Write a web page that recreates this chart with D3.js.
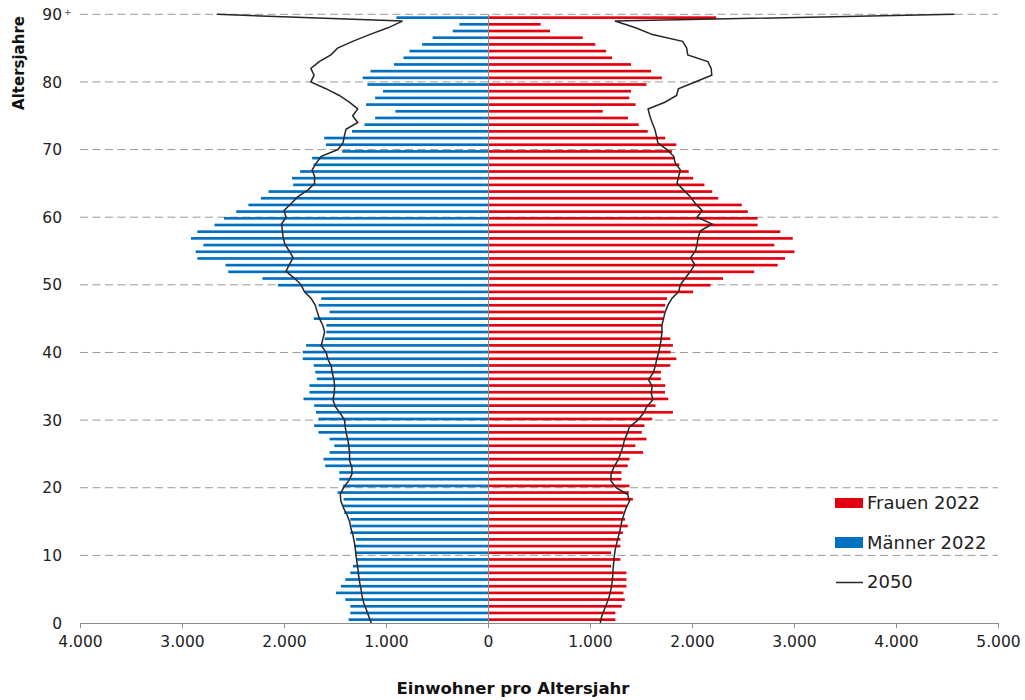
<!DOCTYPE html>
<html>
<head>
<meta charset="utf-8">
<script src="https://cdn.jsdelivr.net/npm/d3@7/dist/d3.min.js"></script>
<style>
  html, body { margin: 0; padding: 0; background: #fff; }
  svg { display: block; font-family: "DejaVu Sans", Verdana, sans-serif; }
</style>
</head>
<body>
<svg id="chart" width="1025" height="700"></svg>
<script>
// Ages 0 .. 90 (90 = 90+)
const ages = d3.range(0, 91);

const men2022 = [
  1367,1350,1350,1399,1491,1442,1399,1350,1324,1294,
  1300,1311,1294,1350,1340,1350,1409,1422,1416,1475,
  1420,1458,1458,1596,1613,1553,1507,1553,1662,1704,
  1662,1687,1704,1809,1750,1750,1678,1694,1708,1816,
  1816,1783,1602,1585,1585,1708,1553,1661,1635,1800,
  2059,2211,2547,2573,2849,2866,2790,2912,2849,2681,
  2589,2468,2349,2227,2152,1910,1921,1842,1710,1724,
  1430,1589,1606,1333,1211,1106,908,1195,1106,1030,
  1182,1228,1152,922,829,770,646,543,345,280,
  898
];

const women2022 = [
  1249,1249,1311,1341,1328,1357,1357,1357,1206,1298,
  1206,1298,1298,1322,1370,1344,1328,1361,1420,1380,
  1387,1308,1308,1370,1387,1521,1445,1554,1508,1534,
  1610,1813,1642,1767,1735,1738,1695,1695,1787,1846,
  1790,1813,1787,1711,1705,1721,1731,1737,1754,2011,
  2182,2304,2610,2840,2912,3005,2807,2988,2866,2643,
  2643,2547,2488,2257,2198,2122,2011,1968,1876,1830,
  1803,1846,1737,1566,1477,1372,1125,1447,1385,1402,
  1553,1704,1599,1402,1217,1158,1052,928,608,516,
  2237
];

const men2050 = [
  1144,1170,1193,1219,1235,1245,1258,1268,1275,1285,
  1294,1301,1311,1324,1344,1357,1383,1416,1442,1448,
  1416,1367,1334,1334,1357,1357,1363,1373,1389,1400,
  1406,1448,1497,1520,1507,1504,1510,1527,1537,1570,
  1586,1635,1619,1602,1619,1652,1674,1694,1734,1800,
  1832,1900,1980,1948,1910,1948,1991,2008,2016,2024,
  1980,2000,1931,1866,1767,1700,1700,1724,1684,1635,
  1471,1421,1409,1392,1277,1327,1277,1359,1458,1589,
  1737,1705,1737,1655,1540,1475,1327,1162,981,839,
  2660
];

const women2050 = [
  1101,1115,1141,1167,1190,1206,1216,1223,1226,1233,
  1239,1249,1265,1282,1298,1311,1331,1354,1387,1370,
  1256,1206,1206,1233,1272,1298,1321,1337,1364,1387,
  1469,1524,1557,1616,1600,1610,1573,1622,1639,1655,
  1672,1688,1698,1705,1705,1721,1737,1764,1803,1869,
  1886,1935,1985,2027,1985,2034,2050,2060,2083,2198,
  2050,2100,2034,1985,1919,1853,1869,1886,1836,1820,
  1754,1665,1652,1635,1609,1586,1569,1734,1849,1866,
  2030,2194,2188,2155,1958,1948,1908,1612,1447,1244,
  4574
];

const xTicks = [-4000,-3000,-2000,-1000,0,1000,2000,3000,4000,5000];
const yTicks = [0,10,20,30,40,50,60,70,80,90];
const legendLabels = ["Frauen 2022", "Männer 2022", "2050"];

const colMen = "#0070C0";
const colWomen = "#E3000F";

const svg = d3.select("#chart");

const x = d3.scaleLinear().domain([-4000, 5000]).range([80, 998]);
const yLin = d3.scaleLinear().domain([0, 90]).range([623, 14.3]);
const yBand = d3.scaleBand().domain(ages).range([623, 14.3]).paddingInner(0.6).paddingOuter(0.3);

const fmt = v => d3.format(",")(Math.abs(v)).replace(/,/g, ".");

// gridlines
svg.append("g").selectAll("line").data(yTicks.filter(t => t > 0)).join("line")
  .attr("x1", x(-4000)).attr("x2", x(5000))
  .attr("y1", d => yLin(d)).attr("y2", d => yLin(d))
  .attr("stroke", "#9a9a9a").attr("stroke-width", 1)
  .attr("stroke-dasharray", "8,4.5");

// bars
svg.append("g").selectAll("rect").data(ages).join("rect")
  .attr("x", d => x(-men2022[d]))
  .attr("width", d => x(0) - x(-men2022[d]))
  .attr("y", d => yBand(d))
  .attr("height", yBand.bandwidth())
  .attr("fill", colMen);

svg.append("g").selectAll("rect").data(ages).join("rect")
  .attr("x", x(0))
  .attr("width", d => x(women2022[d]) - x(0))
  .attr("y", d => yBand(d))
  .attr("height", yBand.bandwidth())
  .attr("fill", colWomen);

// zero axis (crisp)
const zx = Math.round(x(0)) + 0.5;
svg.append("line")
  .attr("x1", zx).attr("x2", zx)
  .attr("y1", yLin(90)).attr("y2", yLin(0))
  .attr("stroke", "#8c8c8c").attr("stroke-width", 1);

// 2050 lines
const lineM = d3.line().x(d => x(-men2050[d])).y(d => yLin(d));
const lineW = d3.line().x(d => x(women2050[d])).y(d => yLin(d));
svg.append("path").datum(ages).attr("d", lineM)
  .attr("fill", "none").attr("stroke", "#262626").attr("stroke-width", 1.5);
svg.append("path").datum(ages).attr("d", lineW)
  .attr("fill", "none").attr("stroke", "#262626").attr("stroke-width", 1.5);

// x axis
const xAxis = d3.axisBottom(x).tickValues(xTicks).tickFormat(fmt).tickSize(5).tickPadding(8);
const gx = svg.append("g").attr("transform", `translate(0,${yLin(0)})`).call(xAxis);
gx.select(".domain").attr("stroke", "#8c8c8c");
gx.selectAll(".tick line").attr("stroke", "#8c8c8c");
gx.selectAll(".tick text").attr("fill", "#222").style("font-size", "15.5px")
  .style("font-family", '"DejaVu Sans", sans-serif');

// y tick labels
const gy = svg.append("g");
gy.selectAll("text").data(yTicks).join("text")
  .attr("x", 62).attr("y", d => yLin(d))
  .attr("dy", "0.36em")
  .attr("text-anchor", "end")
  .attr("fill", "#222").style("font-size", "15.5px")
  .text(d => d);
gy.append("text").attr("x", 64).attr("y", yLin(90) + 1)
  .attr("fill", "#444").style("font-size", "9px").text("+");

// axis titles
svg.append("text")
  .attr("transform", `translate(24,63) rotate(-90)`)
  .attr("text-anchor", "middle")
  .style("font-size", "15px").style("font-weight", "bold").attr("fill", "#111")
  .text("Altersjahre");

svg.append("text")
  .attr("x", 513).attr("y", 694)
  .attr("text-anchor", "middle")
  .style("font-size", "16.5px").style("font-weight", "bold").attr("fill", "#111")
  .text("Einwohner pro Altersjahr");

// legend
const lg = svg.append("g");
lg.append("rect").attr("x", 835).attr("y", 498).attr("width", 28).attr("height", 10).attr("fill", colWomen);
lg.append("rect").attr("x", 835).attr("y", 537).attr("width", 28).attr("height", 11).attr("fill", colMen);
lg.append("line").attr("x1", 836).attr("x2", 863).attr("y1", 582.5).attr("y2", 582.5)
  .attr("stroke", "#262626").attr("stroke-width", 1.5);
const lgY = [509, 549, 588];
lg.selectAll("text").data(legendLabels).join("text")
  .attr("x", 867).attr("y", (d, i) => lgY[i])
  .attr("fill", "#222").style("font-size", "18px")
  .text(d => d);
</script>
</body>
</html>
